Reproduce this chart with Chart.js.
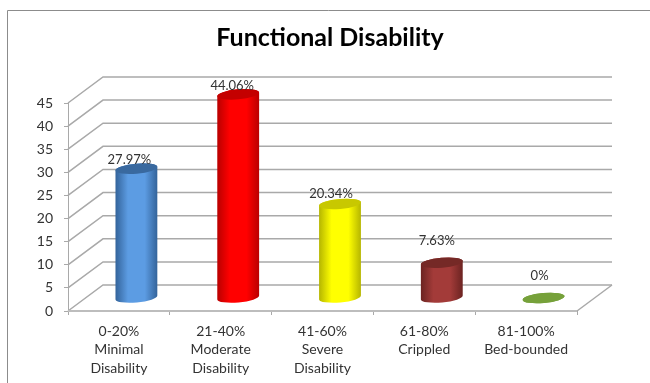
<!DOCTYPE html>
<html>
<head>
<meta charset="utf-8">
<title>Functional Disability</title>
<script src="https://cdn.jsdelivr.net/npm/chart.js@4"></script>
<style>
    body { margin: 0; background: #fff; }
    canvas { display: block; }
</style>
</head>
<body>
<canvas id="myChart" width="650" height="383"></canvas>
<script>
const categories = [
    ['0-20%', 'Minimal', 'Disability'],
    ['21-40%', 'Moderate', 'Disability'],
    ['41-60%', 'Severe', 'Disability'],
    ['61-80%', 'Crippled'],
    ['81-100%', 'Bed-bounded']
];
const disabilityValues = [27.97, 44.06, 20.34, 7.63, 0];
const valueLabels = ['27.97%', '44.06%', '20.34%', '7.63%', '0%'];
const yTicks = [0, 5, 10, 15, 20, 25, 30, 35, 40, 45];

// side shading of each cylinder: edge, middle, lid
const edgeColors = ['#33639a', '#b90000', '#b5b500', '#6b2321', '#76a13a'];
const midColors = ['#5c9ce3', '#ff0000', '#ffff00', '#a33b39', '#76a13a'];
const lidColors = ['#39699f', '#c40000', '#c8c800', '#752926', '#76a13a'];

// how far each value label sits above its lid, and its shift to the left
const labelLift = [9, 9, 10, 22, 22];
const labelShift = [7, 6, 9, 5, 4];

// the floor of the box goes back and to the right
const depthX = 35;
const depthY = -26;
const gridColor = '#a9a9a9';
const tilt = -0.09;

const boxPlugin = {
    id: 'box',
    beforeDraw(chart) {
        const ctx = chart.ctx;
        ctx.save();
        ctx.strokeStyle = '#8c8c8c';
        ctx.lineWidth = 1;
        ctx.beginPath();
        ctx.moveTo(7.5, 383);
        ctx.lineTo(7.5, 10.5);
        ctx.lineTo(650, 10.5);
        ctx.stroke();
        ctx.restore();
    },
    beforeDatasetsDraw(chart) {
        const ctx = chart.ctx;
        const area = chart.chartArea;
        const y = chart.scales.y;
        ctx.save();
        ctx.strokeStyle = gridColor;
        ctx.lineWidth = 1.5;
        yTicks.forEach((tick) => {
            const py = y.getPixelForValue(tick);
            ctx.beginPath();
            ctx.moveTo(area.left, py);
            ctx.lineTo(area.left + depthX, py + depthY);
            ctx.lineTo(area.right + depthX, py + depthY);
            ctx.stroke();
        });
        ctx.beginPath();
        ctx.moveTo(area.right, area.bottom);
        ctx.lineTo(area.right + depthX, area.bottom + depthY);
        ctx.stroke();
        // front axis lines
        ctx.strokeStyle = '#bdbdbd';
        ctx.lineWidth = 2;
        ctx.beginPath();
        ctx.moveTo(area.left, area.bottom);
        ctx.lineTo(area.right, area.bottom);
        ctx.stroke();
        ctx.restore();
    },
    // the bars are drawn as cylinders, so the flat ones are skipped
    beforeDatasetDraw() {
        return false;
    },
    afterDatasetsDraw(chart) {
        const ctx = chart.ctx;
        chart.getDatasetMeta(0).data.forEach((bar, i) => {
            const cx = bar.x + depthX / 2;
            const top = bar.y + depthY / 2;
            const bottom = bar.base + depthY / 2;
            const rx = bar.width / 2;
            const ry = 5;

            const side = ctx.createLinearGradient(cx - rx, 0, cx + rx, 0);
            side.addColorStop(0, edgeColors[i]);
            side.addColorStop(0.3, midColors[i]);
            side.addColorStop(0.7, midColors[i]);
            side.addColorStop(1, edgeColors[i]);

            ctx.save();
            ctx.fillStyle = side;
            ctx.beginPath();
            ctx.ellipse(cx, bottom, rx, ry, tilt, 0, Math.PI);
            ctx.ellipse(cx, top, rx, ry, tilt, Math.PI, Math.PI * 2);
            ctx.closePath();
            ctx.fill();

            ctx.fillStyle = lidColors[i];
            ctx.beginPath();
            ctx.ellipse(cx, top, rx, ry, tilt, 0, Math.PI * 2);
            ctx.fill();

            ctx.fillStyle = '#333';
            ctx.font = '13px Lato';
            ctx.textAlign = 'center';
            ctx.textBaseline = 'middle';
            ctx.fillText(valueLabels[i], cx - labelShift[i], top - labelLift[i]);
            ctx.restore();
        });
    }
};

const ctx = document.getElementById('myChart').getContext('2d');
const myChart = new Chart(ctx, {
    type: 'bar',
    data: {
        labels: categories,
        datasets: [{
            label: 'Functional Disability',
            data: disabilityValues,
            backgroundColor: midColors,
            barThickness: 42
        }]
    },
    plugins: [boxPlugin],
    options: {
        responsive: false,
        animation: false,
        layout: {
            padding: { left: 10 }
        },
        plugins: {
            legend: { display: false },
            tooltip: { enabled: false },
            title: {
                display: true,
                text: 'Functional Disability',
                color: '#000',
                font: { family: 'Lato', size: 25, weight: 'bold', lineHeight: 1.2 },
                padding: { top: 23, bottom: 50 }
            }
        },
        scales: {
            x: {
                afterFit: (scale) => { scale.height = 72; },
                border: { display: false },
                grid: {
                    drawOnChartArea: false,
                    color: gridColor,
                    tickLength: 4,
                    offset: true
                },
                ticks: {
                    color: '#333',
                    padding: 7,
                    maxRotation: 0,
                    autoSkip: false,
                    font: { family: 'Lato', size: 14, lineHeight: 1.32 }
                }
            },
            y: {
                min: 0,
                max: 45,
                afterFit: (scale) => { scale.width = 58; },
                afterBuildTicks: (scale) => { scale.ticks = yTicks.map((value) => ({ value })); },
                border: { color: gridColor, width: 1 },
                grid: {
                    drawOnChartArea: false,
                    color: gridColor,
                    tickLength: 4
                },
                ticks: {
                    color: '#333',
                    padding: 11,
                    font: { family: 'Lato', size: 14 }
                }
            },
            // empty axis that keeps room for the depth of the box
            spacer: {
                axis: 'y',
                position: 'right',
                afterFit: (scale) => { scale.width = 73; },
                border: { display: false },
                grid: { display: false },
                ticks: { display: false }
            }
        }
    }
});
</script>
</body>
</html>
